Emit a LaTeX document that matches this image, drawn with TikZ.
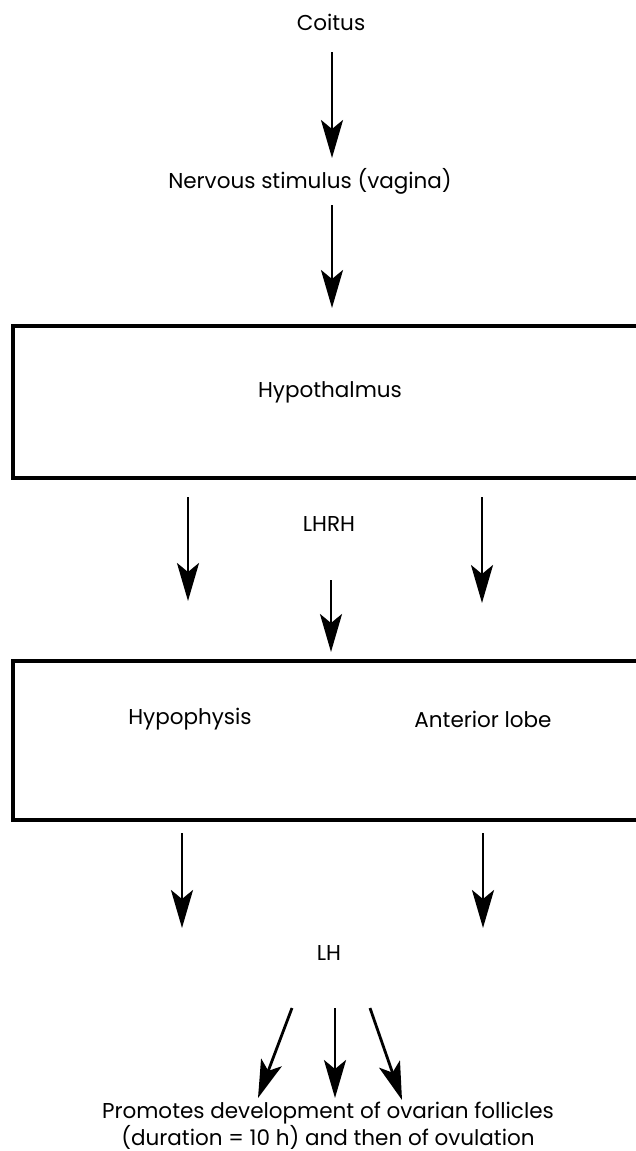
\documentclass[tikz,border=0pt]{standalone}
\usepackage{fontspec}
\setmainfont{Poppins}
\usetikzlibrary{arrows.meta}
\tikzset{
  lbl/.style={inner sep=0pt, font=\fontsize{21.5}{26}\selectfont, anchor=center},
  arr/.style={line width=2.8pt, -{Stealth[length=38pt,width=22pt,inset=9pt]}},
  boxline/.style={line width=3.5pt},
}
\begin{document}
\begin{tikzpicture}[x=1pt,y=-1pt]
\useasboundingbox[fill=white] (0,0) rectangle (636,1151);
% texts
\node[lbl] (coitus) at (331,22) {Coitus};
\node[lbl] (nerv) at (310,181) {Nervous stimulus (vagina)};
\node[lbl] (hyth) at (330,392) {Hypothalmus};
\node[lbl] (lhrh) at (329,524) {LHRH};
\node[lbl] (hyph) at (190,719) {Hypophysis};
\node[lbl] (ant) at (483,719) {Anterior lobe};
\node[lbl] (lh) at (329,953) {LH};
\node[lbl, align=center, font=\fontsize{21.5}{27}\selectfont] (prom) at (328,1126) {Promotes development of ovarian follicles\\(duration = 10 h) and then of ovulation};
% boxes (open to the right)
\draw[boxline] (660,326) -- (13,326) -- (13,478) -- (660,478);
\draw[boxline] (660,661) -- (13,661) -- (13,820) -- (660,820);
% arrow coordinates
\coordinate (a1s) at (332,52);  \coordinate (a1e) at (332,158);
\coordinate (a2s) at (332,205); \coordinate (a2e) at (332,308);
\coordinate (b1s) at (188,497); \coordinate (b1e) at (188,601);
\coordinate (b2s) at (331,580); \coordinate (b2e) at (331,652);
\coordinate (b3s) at (482,497); \coordinate (b3e) at (482,603);
\coordinate (c1s) at (182,833); \coordinate (c1e) at (182,928);
\coordinate (c2s) at (483,833); \coordinate (c2e) at (483,928);
\coordinate (d1s) at (292,1008); \coordinate (d1e) at (258,1098);
\coordinate (d2s) at (335,1008); \coordinate (d2e) at (335,1098);
\coordinate (d3s) at (370,1008); \coordinate (d3e) at (402,1100);
\foreach \p in {a1,a2,b1,b2,b3,c1,c2,d1,d2,d3}
  \draw[arr] (\p s) -- (\p e);
\end{tikzpicture}
\end{document}
